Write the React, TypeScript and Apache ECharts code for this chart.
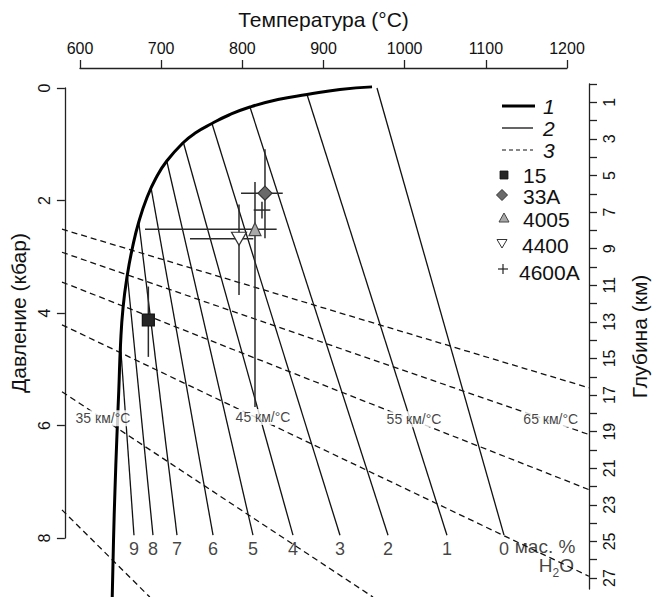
import React, { useEffect, useRef } from "react";
import * as echarts from "echarts";

const FONT = '"Liberation Sans", Arial, Helvetica, sans-serif';
const INK = "#111";

// ---- axes ----
const tempTicks = [600, 700, 800, 900, 1000, 1100, 1200];
const pressureTicks = [0, 2, 4, 6, 8];
const depthTicks = [0, 1, 2, 3, 4, 5, 6, 7, 8, 9, 10, 11, 12, 13, 14, 15, 16, 17, 18, 19, 20, 21, 22, 23, 24, 25, 26, 27];
const depthLabels = [1, 3, 5, 7, 9, 11, 13, 15, 17, 19, 21, 23, 25, 27];

// ---- curve 1 : solidus (T °C, P kbar) ----
const solidusT = [959.8, 920.3, 879.7, 843.9, 809.4, 783.6, 762.6, 742.0, 727.4, 706.9, 693.6, 682.3, 672.4, 664.8, 658.3, 653.0, 649.9, 647.8, 645.3, 643.1, 641.3, 639.7];
const solidusP = [-0.02, 0.027, 0.116, 0.204, 0.338, 0.48, 0.631, 0.8, 0.969, 1.298, 1.6, 1.956, 2.382, 2.827, 3.324, 3.911, 4.569, 5.369, 6.258, 7.147, 8.036, 9.049];

// ---- curves 2 : H2O isopleths (wt %) ----
const isoLabels = ["0", "1", "2", "3", "4", "5", "6", "7", "8", "9"];
const isoTopT = [965.9, 879.7, 809.4, 762.6, 727.4, 706.9, 687.6, 672.4, 658.3, 649.9];
const isoTopP = [0.0, 0.116, 0.338, 0.631, 0.969, 1.298, 1.778, 2.382, 3.324, 4.569];
const isoBottomT = [1122.4, 1052.1, 979.5, 920.3, 862.4, 813.1, 763.9, 719.5, 689.9, 666.5];
const isoBottomP = [7.95, 7.95, 7.95, 7.95, 7.95, 7.95, 7.95, 7.95, 7.95, 7.95];

// ---- curves 3 : geotherms (dashed) ----
const geoStartT = [577.8, 577.8, 577.8, 577.8, 577.8, 577.8];
const geoStartP = [2.51, 2.92, 3.45, 4.21, 5.4, 7.5];
const geoEndT = [1227, 1227, 1227, 1227, 961, 686];
const geoEndP = [5.33, 6.16, 7.14, 8.68, 9.05, 9.05];
const geoLabelText = ["35 км/°C", "45 км/°C", "55 км/°C", "65 км/°C"];
const geoLabelT = [628.3, 825.5, 1011.5, 1180];
const geoLabelP = [5.87, 5.85, 5.89, 5.89];

// ---- samples ----
const sampleNames = ["15", "33A", "4005", "4400", "4600A"];
const sampleT = [684.2, 827.9, 815.6, 795.9, 824.2];
const sampleP = [4.124, 1.87, 2.51, 2.68, 2.17];
const sampleTmin = [684.2, 798.4, 680.1, 735.5, 814.0];
const sampleTmax = [684.2, 849.8, 842.3, 813.5, 834.5];
const samplePmin = [3.53, 1.09, 1.67, 2.07, 2.02];
const samplePmax = [4.78, 2.67, 5.67, 3.68, 2.32];

// ---- layout (pixels) ----
const PX_PER_DEG = 487 / 600;
const X_MIN = 600 - 18 / PX_PER_DEG;
const X_MAX = 1200 + 22 / PX_PER_DEG;
const P_MAX_VIEW = 509 / (450 / 8);

const sampleStyles: Record<string, any> = {
  "15": { symbol: "rect", size: 12, color: "#262626", border: "#111" },
  "33A": { symbol: "diamond", size: 14, color: "#6a6a6a", border: "#333" },
  "4005": { symbol: "triangle", size: [12, 13], color: "#a9a9a9", border: "#444" },
  "4400": { symbol: "triangle", size: [15, 13], color: "#ffffff", border: "#333", rotate: 180 },
};

function buildLegend() {
  const els: any[] = [];
  const txt = (x: number, y: number, t: string, italic = false) => ({
    type: "text",
    x,
    y,
    style: { text: t, fontSize: 21, fontFamily: FONT, fontStyle: italic ? "italic" : "normal", fill: INK, verticalAlign: "middle", align: "left" },
  });
  els.push({ type: "line", shape: { x1: 502, y1: 106, x2: 535, y2: 106 }, style: { stroke: "#000", lineWidth: 3.2 } });
  els.push(txt(543, 106, "1", true));
  els.push({ type: "line", shape: { x1: 502, y1: 128, x2: 533, y2: 128 }, style: { stroke: INK, lineWidth: 1.3 } });
  els.push(txt(543, 128, "2", true));
  els.push({ type: "line", shape: { x1: 502, y1: 150, x2: 533, y2: 150 }, style: { stroke: INK, lineWidth: 1.2, lineDash: [4, 3] } });
  els.push(txt(543, 150, "3", true));
  els.push({ type: "rect", shape: { x: 500, y: 171, width: 8, height: 8 }, style: { fill: "#262626", stroke: "#111", lineWidth: 0.8 } });
  els.push(txt(523, 175, sampleNames[0]));
  els.push({ type: "polygon", shape: { points: [[502, 189.5], [507.5, 195], [502, 200.5], [496.5, 195]] }, style: { fill: "#6a6a6a", stroke: "#333", lineWidth: 1 } });
  els.push(txt(523, 196, sampleNames[1]));
  els.push({ type: "polygon", shape: { points: [[504, 213], [509, 222], [499, 222]] }, style: { fill: "#a9a9a9", stroke: "#444", lineWidth: 1 } });
  els.push(txt(523, 219, sampleNames[2]));
  els.push({ type: "polygon", shape: { points: [[497, 239.5], [507, 239.5], [502, 248]] }, style: { fill: "#fff", stroke: "#333", lineWidth: 1 } });
  els.push(txt(522, 245, sampleNames[3]));
  els.push({ type: "line", shape: { x1: 498, y1: 269, x2: 508, y2: 269 }, style: { stroke: "#222", lineWidth: 1.2 } });
  els.push({ type: "line", shape: { x1: 503, y1: 264, x2: 503, y2: 274 }, style: { stroke: "#222", lineWidth: 1.2 } });
  els.push(txt(519, 272, sampleNames[4]));
  return els;
}

export default function App() {
  const ref = useRef<HTMLDivElement>(null);
  useEffect(() => {
    if (!ref.current) return;
    const chart = echarts.init(ref.current, undefined, { renderer: "svg" });

    const axisLineStyle = { color: "#222", width: 1.3 };
    const hiddenAxis = (grid: number) => ({ gridIndex: grid, type: "value", show: false, min: 0, max: 1 });

    const series: any[] = [];

    isoLabels.forEach((lab, i) => {
      series.push({
        type: "line",
        name: "2",
        xAxisIndex: 0,
        yAxisIndex: 0,
        data: [[isoTopT[i], isoTopP[i]], [isoBottomT[i], isoBottomP[i]]],
        symbol: "none",
        clip: false,
        silent: true,
        lineStyle: { color: INK, width: 1.3 },
        z: 2,
      });
    });

    geoStartT.forEach((t, i) => {
      series.push({
        type: "line",
        name: "3",
        xAxisIndex: 0,
        yAxisIndex: 0,
        data: [[t, geoStartP[i]], [geoEndT[i], geoEndP[i]]],
        symbol: "none",
        clip: false,
        silent: true,
        lineStyle: { color: INK, width: 1.3, type: [6, 4] },
        z: 2,
      });
    });

    series.push({
      type: "line",
      name: "1",
      xAxisIndex: 0,
      yAxisIndex: 0,
      data: solidusT.map((t, i) => [t, solidusP[i]]),
      symbol: "none",
      smooth: 0.5,
      clip: false,
      silent: true,
      lineStyle: { color: "#000", width: 3 },
      z: 3,
    });

    series.push({
      type: "custom",
      name: "errorbars",
      xAxisIndex: 0,
      yAxisIndex: 0,
      clip: false,
      silent: true,
      z: 4,
      data: sampleNames.map((_, i) => [sampleT[i], sampleP[i], sampleTmin[i], sampleTmax[i], samplePmin[i], samplePmax[i]]),
      renderItem: (params: any, api: any) => {
        const t = api.value(0), p = api.value(1);
        const a = api.coord([api.value(2), p]);
        const b = api.coord([api.value(3), p]);
        const c = api.coord([t, api.value(4)]);
        const d = api.coord([t, api.value(5)]);
        const st = { stroke: "#2a2a2a", lineWidth: 1.5 };
        const children: any[] = [];
        if (Math.abs(b[0] - a[0]) > 0.5) children.push({ type: "line", shape: { x1: a[0], y1: a[1], x2: b[0], y2: b[1] }, style: st });
        if (Math.abs(d[1] - c[1]) > 0.5) children.push({ type: "line", shape: { x1: c[0], y1: c[1], x2: d[0], y2: d[1] }, style: st });
        return { type: "group", children };
      },
    });

    sampleNames.forEach((n, i) => {
      const s = sampleStyles[n];
      if (!s) return;
      series.push({
        type: "scatter",
        name: n,
        xAxisIndex: 0,
        yAxisIndex: 0,
        data: [[sampleT[i], sampleP[i]]],
        symbol: s.symbol,
        symbolSize: s.size,
        symbolRotate: s.rotate || 0,
        itemStyle: { color: s.color, borderColor: s.border, borderWidth: 1.2, opacity: 1 },
        silent: true,
        z: 5,
      });
    });

    series.push({
      type: "scatter",
      name: "isoLabels",
      xAxisIndex: 0,
      yAxisIndex: 0,
      symbolSize: 0,
      silent: true,
      data: isoLabels.map((lab, i) => ({ value: [isoBottomT[i], isoBottomP[i]], name: lab })),
      label: { show: true, position: "bottom", distance: 5, formatter: "{b}", fontSize: 18, fontFamily: FONT, color: INK },
      z: 6,
    });

    series.push({
      type: "scatter",
      name: "units",
      xAxisIndex: 0,
      yAxisIndex: 0,
      symbolSize: 0,
      silent: true,
      data: [
        { value: [1173, 8.18], name: "мас. %", label: { formatter: "{a|мас. %}" } },
        { value: [1187, 8.53], name: "H₂O", label: { formatter: "{a|H}{s|2}{a|O}" } },
      ],
      label: {
        show: true,
        position: "inside",
        color: INK,
        rich: {
          a: { fontSize: 19, fontFamily: FONT, color: INK, padding: [0, 0, 4, 0] },
          s: { fontSize: 12, fontFamily: FONT, color: INK, verticalAlign: "bottom" },
        },
      },
      z: 6,
    });

    series.push({
      type: "scatter",
      name: "geoLabels",
      xAxisIndex: 0,
      yAxisIndex: 0,
      symbolSize: 0,
      silent: true,
      data: geoLabelText.map((t, i) => ({ value: [geoLabelT[i], geoLabelP[i]], name: t })),
      label: {
        show: true,
        position: "inside",
        formatter: "{b}",
        fontSize: 14,
        fontFamily: FONT,
        color: INK,
        backgroundColor: "#fff",
        padding: [1, 1],
      },
      z: 6,
    });

    const option: any = {
      animation: false,
      backgroundColor: "#fff",
      grid: [
        { left: 62, top: 88, width: 527, height: 509 },
        { left: 80, top: 68, width: 487, height: 10 },
        { left: 62, top: 88, width: 527, height: 450 },
        { left: 62, top: 84, width: 527, height: 505 },
      ],
      xAxis: [
        { gridIndex: 0, type: "value", min: X_MIN, max: X_MAX, show: false },
        {
          gridIndex: 1,
          type: "value",
          position: "top",
          min: tempTicks[0],
          max: tempTicks[tempTicks.length - 1],
          interval: 100,
          axisLine: { show: true, onZero: false, lineStyle: axisLineStyle },
          axisTick: { show: true, length: 8, lineStyle: axisLineStyle },
          axisLabel: { fontSize: 16, fontFamily: FONT, color: INK, margin: 12, formatter: (v: number) => String(v) },
          splitLine: { show: false },
          name: "Температура (°C)",
          nameLocation: "middle",
          nameGap: 38,
          nameTextStyle: { fontSize: 21, fontFamily: FONT, color: INK },
        },
        hiddenAxis(2),
        hiddenAxis(3),
      ],
      yAxis: [
        { gridIndex: 0, type: "value", min: 0, max: P_MAX_VIEW, inverse: true, show: false },
        hiddenAxis(1),
        {
          gridIndex: 2,
          type: "value",
          position: "left",
          min: pressureTicks[0],
          max: pressureTicks[pressureTicks.length - 1],
          interval: 2,
          inverse: true,
          axisLine: { show: true, onZero: false, lineStyle: axisLineStyle },
          axisTick: { show: true, length: 8, lineStyle: axisLineStyle },
          axisLabel: { fontSize: 16, fontFamily: FONT, color: INK, margin: 12, rotate: 90 },
          splitLine: { show: false },
          name: "Давление (кбар)",
          nameLocation: "middle",
          nameGap: 33,
          nameTextStyle: { fontSize: 21, fontFamily: FONT, color: INK },
        },
        {
          gridIndex: 3,
          type: "value",
          position: "right",
          min: 0,
          max: 27.6,
          inverse: true,
          axisLine: { show: true, onZero: false, lineStyle: axisLineStyle },
          axisTick: { show: true, length: 8, lineStyle: axisLineStyle, customValues: depthTicks },
          axisLabel: { fontSize: 16, fontFamily: FONT, color: INK, margin: 12, rotate: 90, customValues: depthLabels },
          splitLine: { show: false },
          name: "Глубина (км)",
          nameLocation: "middle",
          nameGap: 40,
          nameTextStyle: { fontSize: 21, fontFamily: FONT, color: INK },
        },
      ],
      graphic: buildLegend(),
      series,
    };
    chart.setOption(option);
    return () => chart.dispose();
  }, []);
  return <div ref={ref} style={{ width: 659, height: 597, position: "absolute", left: 0, top: 0 }} />;
}
